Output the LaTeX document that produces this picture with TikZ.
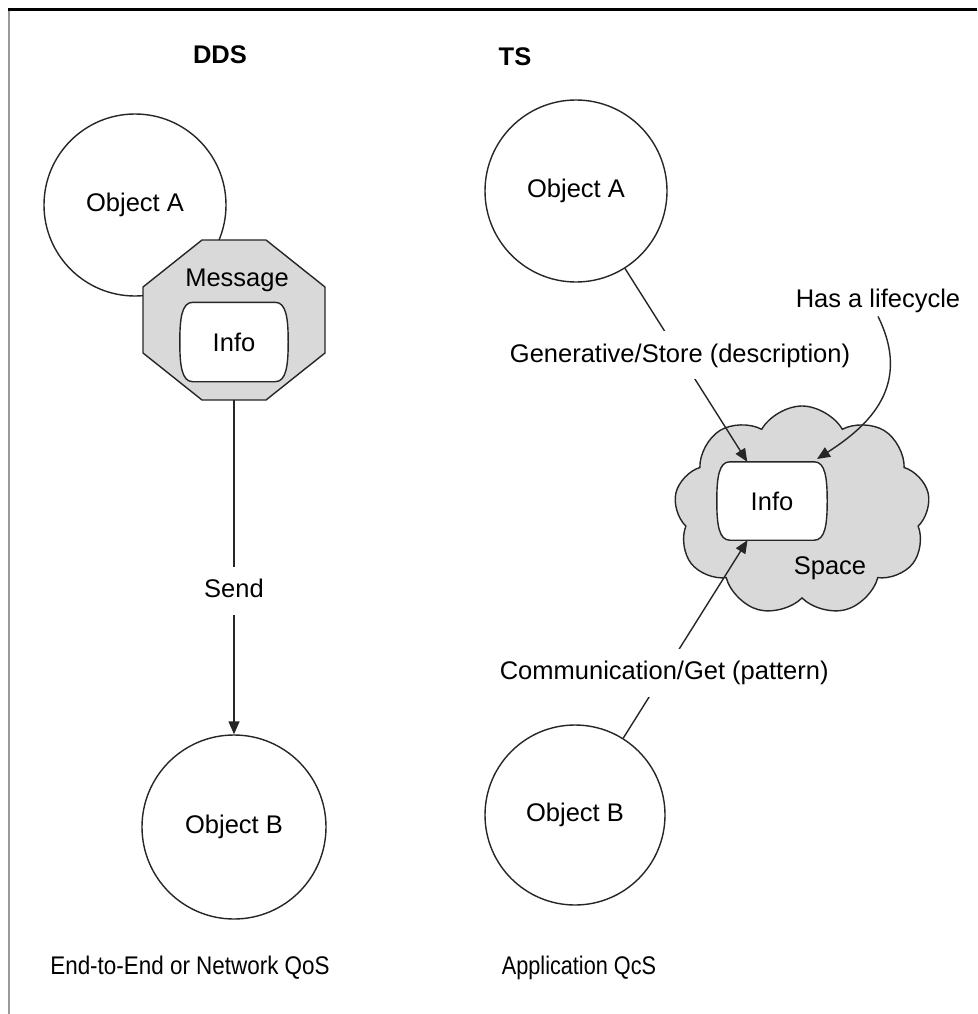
\documentclass[tikz,border=0pt]{standalone}
\usepackage{fontspec}
\setmainfont{Liberation Sans}
\usetikzlibrary{arrows.meta,shapes.symbols,calc}

% outline of an "Info" container: flat top and bottom, gently bulging sides
\newcommand\infooutline[1]{%
  \draw[infoline] ($(#1.north west)+(13,0)$) -- ($(#1.north east)+(-13,0)$)
    .. controls ($(#1.north east)+(-2,0)$) and ($(#1.north east)+(0,16)$) .. (#1.east)
    .. controls ($(#1.south east)+(0,-16)$) and ($(#1.south east)+(-2,0)$) .. ($(#1.south east)+(-13,0)$)
    -- ($(#1.south west)+(13,0)$)
    .. controls ($(#1.south west)+(2,0)$) and ($(#1.south west)+(0,-16)$) .. (#1.west)
    .. controls ($(#1.north west)+(0,16)$) and ($(#1.north west)+(2,0)$) .. cycle;}

\begin{document}
\begin{tikzpicture}[x=1pt,y=-1pt,
  every node/.style={font=\fontsize{25.5}{30}\selectfont, text=black},
  obj/.style={circle, draw=black!85, line width=1.4pt, fill=white, inner sep=0pt},
  shade/.style={draw=black!85, line width=1.4pt, fill=black!15},
  infoline/.style={draw=black!85, line width=1.4pt, fill=white},
  link/.style={draw=black!85, line width=1.4pt},
  arr/.style={link, -{Triangle[length=13pt,width=11pt]}},
  lbl/.style={fill=white, inner xsep=4pt, inner ysep=12pt, text height=19pt, text depth=5pt},
  title/.style={font=\fontsize{25.5}{30}\selectfont\bfseries},
  holder/.style={inner sep=0pt}
]
\useasboundingbox (0,0) rectangle (977,1014);
\fill[white] (0,0) rectangle (977,1014);

% page frame: heavy rule on top, light rule on the left
\draw[black, line width=3.6pt] (8,9.5) -- (977,9.5);
\draw[black!40, line width=2pt] (9,11) -- (9,1014);

% ---------------- DDS ----------------
\node[title] (dds) at (220,55) {DDS};
\node[obj, minimum size=182pt] (objA1) at (135,205) {Object A};

\node[holder, minimum width=182pt, minimum height=160pt] (msg) at (234,320) {};
\begin{scope}[shift={(msg.center)}]
  \draw[shade] (-32,-80) -- (32,-80) -- (91,-33) -- (91,33) -- (32,80)
               -- (-32,80) -- (-91,33) -- (-91,-33) -- cycle;
\end{scope}
\node (msgLbl) at (237,280) {Message};
\node[holder, minimum width=108pt, minimum height=79pt] (info1) at (234,342) {};
\infooutline{info1}
\node (info1Txt) at (info1.center) {Info};

\node[obj, minimum size=184pt] (objB1) at (234,827) {Object B};
\draw[arr] (msg.south) -- node[lbl, pos=0.57] (sendLbl) {Send} (objB1.north);
\node (qosL) at (190,968) {\scalebox{0.88}[1]{End-to-End or Network QoS}};

% ---------------- TS ----------------
\node[title] (ts) at (515,57) {TS};
\node[obj, minimum size=182pt] (objA2) at (576,191) {Object A};

\node[cloud, cloud puffs=9, cloud puff arc=120, cloud ignores aspect,
      minimum width=256pt, minimum height=210pt, shade] (space) at (802,511) {};
\node (spaceLbl) at (830,568) {Space};
\node[holder, minimum width=110pt, minimum height=78pt] (info2) at (772,501) {};
\infooutline{info2}
\node (info2Txt) at (info2.center) {Info};

\node[obj, minimum size=180pt] (objB2) at (575,815) {Object B};

\draw[arr] (objA2) -- node[lbl, pos=0.45] (genLbl) {Generative/Store (description)} (info2);
\draw[arr] (objB2) -- node[lbl, pos=0.33] (comLbl) {Communication/Get (pattern)} (info2);

\node (life) at (878,301) {Has a lifecycle};
\coordinate (lifeEnd) at (817,459);
\draw[arr] (life.south) .. controls (912,385) and (870,425) .. (lifeEnd);

\node (qosR) at (579,968) {\scalebox{0.85}[1]{Application QcS}};
\end{tikzpicture}
\end{document}
